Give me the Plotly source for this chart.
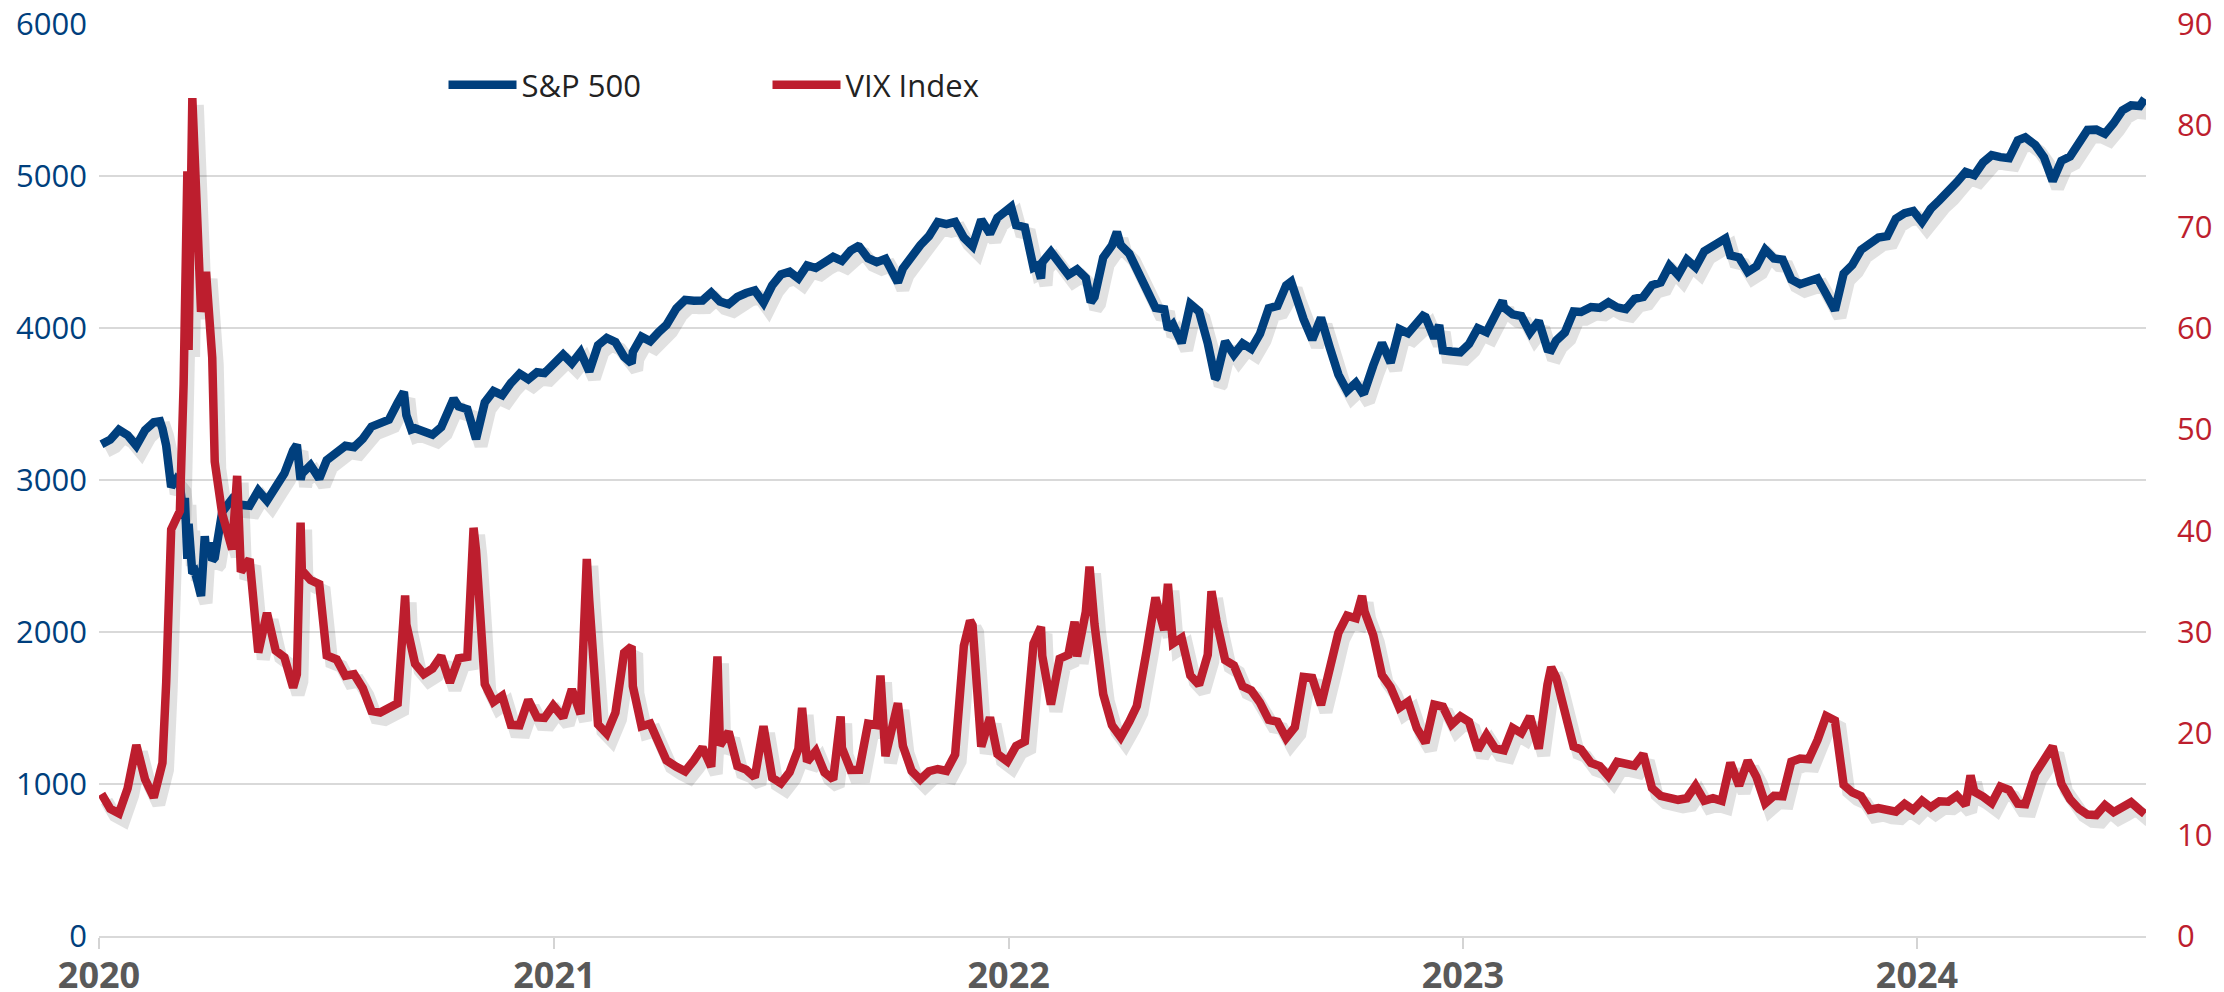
import pandas as pd
import plotly.graph_objects as go

# ---------------- data (weekly closes, plus notable daily extremes) ----------------
week_dates = [
    # 2020
    "2020-01-03", "2020-01-10", "2020-01-17", "2020-01-24", "2020-01-31",
    "2020-02-07", "2020-02-14", "2020-02-21", "2020-02-28",
    "2020-03-06", "2020-03-13", "2020-03-20", "2020-03-27",
    "2020-04-03", "2020-04-09", "2020-04-17", "2020-04-24",
    "2020-05-01", "2020-05-08", "2020-05-15", "2020-05-22", "2020-05-29",
    "2020-06-05", "2020-06-12", "2020-06-19", "2020-06-26",
    "2020-07-02", "2020-07-10", "2020-07-17", "2020-07-24", "2020-07-31",
    "2020-08-07", "2020-08-14", "2020-08-21", "2020-08-28",
    "2020-09-04", "2020-09-11", "2020-09-18", "2020-09-25",
    "2020-10-02", "2020-10-09", "2020-10-16", "2020-10-23", "2020-10-30",
    "2020-11-06", "2020-11-13", "2020-11-20", "2020-11-27",
    "2020-12-04", "2020-12-11", "2020-12-18", "2020-12-24", "2020-12-31",
    # 2021
    "2021-01-08", "2021-01-15", "2021-01-22", "2021-01-29",
    "2021-02-05", "2021-02-12", "2021-02-19", "2021-02-26",
    "2021-03-05", "2021-03-12", "2021-03-19", "2021-03-26",
    "2021-04-01", "2021-04-09", "2021-04-16", "2021-04-23", "2021-04-30",
    "2021-05-07", "2021-05-14", "2021-05-21", "2021-05-28",
    "2021-06-04", "2021-06-11", "2021-06-18", "2021-06-25",
    "2021-07-02", "2021-07-09", "2021-07-16", "2021-07-23", "2021-07-30",
    "2021-08-06", "2021-08-13", "2021-08-20", "2021-08-27",
    "2021-09-03", "2021-09-10", "2021-09-17", "2021-09-24",
    "2021-10-01", "2021-10-08", "2021-10-15", "2021-10-22", "2021-10-29",
    "2021-11-05", "2021-11-12", "2021-11-19", "2021-11-26",
    "2021-12-03", "2021-12-10", "2021-12-17", "2021-12-23", "2021-12-31",
    # 2022
    "2022-01-07", "2022-01-14", "2022-01-21", "2022-01-28",
    "2022-02-04", "2022-02-11", "2022-02-18", "2022-02-25",
    "2022-03-04", "2022-03-11", "2022-03-18", "2022-03-25",
    "2022-04-01", "2022-04-08", "2022-04-14", "2022-04-22", "2022-04-29",
    "2022-05-06", "2022-05-13", "2022-05-20", "2022-05-27",
    "2022-06-03", "2022-06-10", "2022-06-17", "2022-06-24",
    "2022-07-01", "2022-07-08", "2022-07-15", "2022-07-22", "2022-07-29",
    "2022-08-05", "2022-08-12", "2022-08-19", "2022-08-26",
    "2022-09-02", "2022-09-09", "2022-09-16", "2022-09-23", "2022-09-30",
    "2022-10-07", "2022-10-14", "2022-10-21", "2022-10-28",
    "2022-11-04", "2022-11-11", "2022-11-18", "2022-11-25",
    "2022-12-02", "2022-12-09", "2022-12-16", "2022-12-23", "2022-12-30",
    # 2023
    "2023-01-06", "2023-01-13", "2023-01-20", "2023-01-27",
    "2023-02-03", "2023-02-10", "2023-02-17", "2023-02-24",
    "2023-03-03", "2023-03-10", "2023-03-17", "2023-03-24", "2023-03-31",
    "2023-04-06", "2023-04-14", "2023-04-21", "2023-04-28",
    "2023-05-05", "2023-05-12", "2023-05-19", "2023-05-26",
    "2023-06-02", "2023-06-09", "2023-06-16", "2023-06-23", "2023-06-30",
    "2023-07-07", "2023-07-14", "2023-07-21", "2023-07-28",
    "2023-08-04", "2023-08-11", "2023-08-18", "2023-08-25",
    "2023-09-01", "2023-09-08", "2023-09-15", "2023-09-22", "2023-09-29",
    "2023-10-06", "2023-10-13", "2023-10-20", "2023-10-27",
    "2023-11-03", "2023-11-10", "2023-11-17", "2023-11-24",
    "2023-12-01", "2023-12-08", "2023-12-15", "2023-12-22", "2023-12-29",
    # 2024
    "2024-01-05", "2024-01-12", "2024-01-19", "2024-01-26",
    "2024-02-02", "2024-02-09", "2024-02-16", "2024-02-23",
    "2024-03-01", "2024-03-08", "2024-03-15", "2024-03-22", "2024-03-28",
    "2024-04-05", "2024-04-12", "2024-04-19", "2024-04-26",
    "2024-05-03", "2024-05-10", "2024-05-17", "2024-05-24", "2024-05-31",
    "2024-06-07", "2024-06-14", "2024-06-21", "2024-06-28",
    "2024-07-02",
]

spx_week = [
    # 2020
    3235, 3265, 3330, 3295, 3225,
    3328, 3380, 3338, 2954,
    2972, 2711, 2305, 2541,
    2489, 2790, 2875, 2837,
    2831, 2930, 2864, 2955, 3044,
    3194, 3041, 3098, 3009,
    3130, 3185, 3225, 3216, 3271,
    3351, 3373, 3397, 3508,
    3427, 3341, 3319, 3298,
    3348, 3477, 3484, 3465, 3270,
    3510, 3585, 3558, 3638,
    3699, 3663, 3709, 3703, 3756,
    # 2021
    3825, 3768, 3841, 3714,
    3887, 3934, 3907, 3811,
    3842, 3943, 3913, 3975,
    4020, 4129, 4185, 4180, 4181,
    4233, 4174, 4156, 4204,
    4230, 4247, 4166, 4281,
    4352, 4370, 4327, 4412, 4395,
    4437, 4468, 4442, 4509,
    4535, 4459, 4433, 4455,
    4357, 4391, 4471, 4545, 4605,
    4697, 4683, 4698, 4595,
    4538, 4712, 4620, 4725, 4766,
    # 2022
    4677, 4663, 4398, 4432,
    4501, 4419, 4349, 4385,
    4329, 4204, 4463, 4543,
    4546, 4488, 4393, 4272, 4132,
    4123, 4024, 3901, 4158,
    4109, 3901, 3675, 3912,
    3825, 3899, 3863, 3962, 4130,
    4145, 4280, 4228, 4058,
    3924, 4067, 3873, 3693, 3586,
    3640, 3583, 3753, 3901,
    3771, 3993, 3965, 4026,
    4072, 3934, 3852, 3845, 3840,
    # 2023
    3895, 3999, 3973, 4071,
    4136, 4090, 4079, 3970,
    4046, 3862, 3917, 3971, 4109,
    4105, 4138, 4133, 4169,
    4136, 4124, 4192, 4205,
    4282, 4299, 4410, 4348, 4450,
    4399, 4505, 4536, 4582,
    4478, 4464, 4370, 4406,
    4516, 4457, 4450, 4320, 4288,
    4309, 4327, 4224, 4117,
    4358, 4415, 4514, 4559,
    4595, 4604, 4719, 4755, 4770,
    # 2024
    4697, 4784, 4840, 4891,
    4959, 5027, 5006, 5089,
    5137, 5124, 5117, 5234, 5254,
    5204, 5123, 4967, 5100,
    5128, 5223, 5303, 5305, 5278,
    5347, 5432, 5465, 5460,
    5509,
]

vix_week = [
    # 2020
    14.02, 12.56, 12.10, 14.56, 18.84,
    15.47, 13.68, 17.08, 40.11,
    41.94, 57.83, 66.04, 65.54,
    46.80, 41.67, 38.15, 35.93,
    37.19, 27.98, 31.89, 28.16, 27.51,
    24.52, 36.09, 35.12, 34.73,
    27.68, 27.29, 25.68, 25.84, 24.46,
    22.21, 22.05, 22.54, 22.96,
    30.75, 26.87, 25.83, 26.38,
    27.63, 25.00, 27.41, 27.55, 38.02,
    24.86, 23.10, 23.70, 20.84,
    20.79, 23.31, 21.57, 21.53, 22.75,
    # 2021
    21.56, 24.34, 21.91, 33.09,
    20.87, 19.97, 22.05, 27.95,
    24.66, 20.69, 20.95, 18.86,
    17.33, 16.69, 16.25, 17.33, 18.61,
    16.69, 18.81, 20.15, 16.76,
    16.42, 15.65, 20.70, 15.62,
    15.07, 16.18, 18.45, 17.20, 18.24,
    16.15, 15.45, 18.56, 16.39,
    16.41, 20.95, 20.81, 17.75,
    21.15, 18.77, 16.30, 15.43, 16.26,
    16.48, 16.29, 17.91, 28.62,
    30.67, 18.69, 21.57, 17.96, 17.22,
    # 2022
    18.76, 19.19, 28.85, 27.66,
    22.85, 27.36, 27.75, 27.59,
    31.98, 30.75, 23.87, 20.81,
    19.63, 21.16, 22.70, 28.21, 33.40,
    30.19, 28.87, 29.43, 25.72,
    24.79, 27.75, 31.13, 27.23,
    26.70, 24.64, 24.23, 23.03, 21.33,
    21.15, 19.53, 20.60, 25.56,
    25.47, 22.79, 26.30, 29.92, 31.62,
    31.36, 32.02, 29.69, 25.75,
    24.55, 22.52, 23.12, 20.50,
    19.06, 22.83, 22.62, 20.87, 21.67,
    # 2023
    21.13, 18.35, 19.85, 18.51,
    18.33, 20.53, 20.02, 21.67,
    18.49, 24.80, 25.51, 21.74, 18.70,
    18.40, 17.07, 16.77, 15.78,
    17.19, 17.03, 16.81, 17.95,
    14.60, 13.83, 13.54, 13.44, 13.59,
    14.83, 13.34, 13.60, 13.33,
    17.10, 14.84, 17.30, 15.68,
    13.09, 13.84, 13.79, 17.20, 17.52,
    17.45, 19.32, 21.71, 21.27,
    14.91, 14.17, 13.80, 12.46,
    12.63, 12.35, 12.28, 13.03, 12.45,
    # 2024
    13.35, 12.70, 13.30, 13.26,
    13.85, 12.93, 14.24, 13.75,
    13.11, 14.74, 14.41, 13.06, 13.01,
    16.03, 17.31, 18.71, 15.03,
    13.49, 12.55, 11.99, 11.93, 12.92,
    12.22, 12.66, 13.20, 12.44,
    12.03,
]

spx_extra_dates = [
    "2020-02-19", "2020-02-24", "2020-03-03", "2020-03-09", "2020-03-10", "2020-03-12",
    "2020-03-16", "2020-03-18", "2020-03-23", "2020-03-26", "2020-03-31", "2020-04-01",
    "2020-06-08", "2020-06-11", "2020-09-02", "2020-09-08", "2020-10-12",
    "2021-01-27", "2021-03-04", "2021-09-02", "2021-10-04", "2021-11-18", "2021-11-30",
    "2022-01-03", "2022-01-24", "2022-01-27", "2022-03-08", "2022-03-29", "2022-05-09",
    "2022-05-19", "2022-06-16", "2022-08-16", "2022-10-12", "2022-11-30", "2022-12-13",
    "2023-02-02", "2023-03-13", "2023-07-31",
]
spx_extra = [
    3386, 3226, 3003, 2747, 2882, 2481,
    2386, 2398, 2237, 2630, 2585, 2470,
    3232, 3002, 3580, 3332, 3535,
    3750, 3768, 4537, 4300, 4705, 4567,
    4797, 4410, 4326, 4170, 4632, 3991,
    3901, 3667, 4305, 3577, 4080, 4019,
    4179, 3855, 4589,
]

vix_extra_dates = [
    "2020-02-24", "2020-02-27", "2020-03-09", "2020-03-12", "2020-03-16", "2020-03-18",
    "2020-03-23", "2020-04-01", "2020-04-21", "2020-06-08", "2020-06-11", "2020-09-03",
    "2020-10-28", "2021-01-27", "2021-03-04", "2021-05-12", "2021-07-19", "2021-08-19",
    "2021-09-20", "2021-10-04", "2021-12-01", "2022-01-27", "2022-02-23", "2022-03-07",
    "2022-05-09", "2022-06-13", "2022-10-12", "2023-03-13", "2024-02-13",
]
vix_extra = [
    25.03, 39.16, 54.46, 75.47, 82.69, 76.45,
    61.59, 57.06, 45.41, 25.81, 40.79, 33.60,
    40.28, 37.21, 28.57, 27.59, 22.50, 21.67,
    25.71, 22.96, 31.12, 30.49, 31.02, 36.45,
    34.75, 34.02, 33.57, 26.52, 15.85,
]

year_ticks = ["2020-01-01", "2021-01-01", "2022-01-01", "2023-01-01", "2024-01-01"]
year_labels = ["2020", "2021", "2022", "2023", "2024"]
left_ticks = [0, 1000, 2000, 3000, 4000, 5000, 6000]
right_ticks = [0, 10, 20, 30, 40, 50, 60, 70, 80, 90]

assert len(week_dates) == len(spx_week) == len(vix_week)
assert len(spx_extra_dates) == len(spx_extra)
assert len(vix_extra_dates) == len(vix_extra)


def merge(d1, v1, d2, v2):
    s = pd.concat([pd.Series(v1, index=pd.to_datetime(d1)),
                   pd.Series(v2, index=pd.to_datetime(d2))])
    s = s[~s.index.duplicated(keep="last")].sort_index()
    return s


spx = merge(week_dates, spx_week, spx_extra_dates, spx_extra)
vix = merge(week_dates, vix_week, vix_extra_dates, vix_extra)

# ---------------- styling ----------------
BLUE = "#003f7d"
RED = "#bd1e2e"
GRID = "#d9d9d9"
SHADOW = "rgba(40,40,40,0.14)"

W, H = 2224, 992
ML, MR, MT, MB = 99, 78, 24, 56
plot_w = W - ML - MR
plot_h = H - MT - MB

x0 = pd.Timestamp("2020-01-01")
x1 = pd.Timestamp("2024-07-03")
days_per_px = (x1 - x0) / plot_w
sdx, sdy = 5, 7  # shadow offset in px
xs0 = (x0 - days_per_px * sdx)
xs1 = (x1 - days_per_px * sdx)
ls_shift = 6000 / plot_h * sdy
rs_shift = 90 / plot_h * sdy

fig = go.Figure()

# drop shadows (base hidden axes with offset ranges)
fig.add_trace(go.Scatter(x=spx.index, y=spx.values, mode="lines", xaxis="x", yaxis="y",
                         line=dict(color=SHADOW, width=13), showlegend=False, hoverinfo="skip"))
fig.add_trace(go.Scatter(x=vix.index, y=vix.values, mode="lines", xaxis="x", yaxis="y2",
                         line=dict(color=SHADOW, width=13), showlegend=False, hoverinfo="skip"))

# main series
fig.add_trace(go.Scatter(x=spx.index, y=spx.values, mode="lines", name="S&P 500",
                         xaxis="x2", yaxis="y3", line=dict(color=BLUE, width=8.5)))
fig.add_trace(go.Scatter(x=vix.index, y=vix.values, mode="lines", name="VIX Index",
                         xaxis="x2", yaxis="y4", line=dict(color=RED, width=8.5)))

fig.update_layout(
    width=W, height=H,
    margin=dict(l=ML, r=MR, t=MT, b=MB, autoexpand=False),
    paper_bgcolor="white", plot_bgcolor="white",
    font=dict(family="Open Sans", color="#333333"),
    xaxis=dict(visible=False, range=[xs0, xs1], automargin=False),
    yaxis=dict(visible=False, range=[ls_shift, 6000 + ls_shift], automargin=False),
    yaxis2=dict(visible=False, overlaying="y", range=[rs_shift, 90 + rs_shift], automargin=False),
    xaxis2=dict(
        overlaying="x", range=[x0, x1], type="date",
        tickmode="array", tickvals=year_ticks, ticktext=year_labels,
        ticks="outside", ticklen=11, tickwidth=2, tickcolor="#d4d4d4",
        showline=True, linecolor=GRID, linewidth=2,
        showgrid=False, zeroline=False, automargin=False,
        tickfont=dict(family="Open Sans", size=36, color="#595959", weight="bold"),
        ticklabelstandoff=-4,
        anchor="y3",
    ),
    yaxis3=dict(
        overlaying="y", side="left", range=[0, 6000],
        tickmode="array", tickvals=left_ticks, automargin=False,
        showgrid=True, gridcolor=GRID, gridwidth=2,
        zeroline=False, showline=False, ticks="",
        tickfont=dict(family="Open Sans", size=31, color=BLUE),
        ticklabelstandoff=11,
    ),
    yaxis4=dict(
        overlaying="y", side="right", range=[0, 90],
        tickmode="array", tickvals=right_ticks, automargin=False,
        showgrid=False, zeroline=False, showline=False, ticks="",
        tickfont=dict(family="Open Sans", size=31, color=RED),
        ticklabelstandoff=30,
    ),
    legend=dict(
        orientation="h", x=0.1683, xanchor="left", y=0.933, yanchor="middle",
        font=dict(family="Open Sans", size=31, color="#222222"),
        bgcolor="rgba(0,0,0,0)", entrywidth=241, entrywidthmode="pixels",
        itemwidth=68, traceorder="normal",
    ),
    showlegend=True,
    hovermode=False,
)

# remove the browser's default 8px page margin so the figure sits at the window origin
fig.write_html("out.html", config={"displayModeBar": False},
               post_script="document.body.style.margin='0px';")
